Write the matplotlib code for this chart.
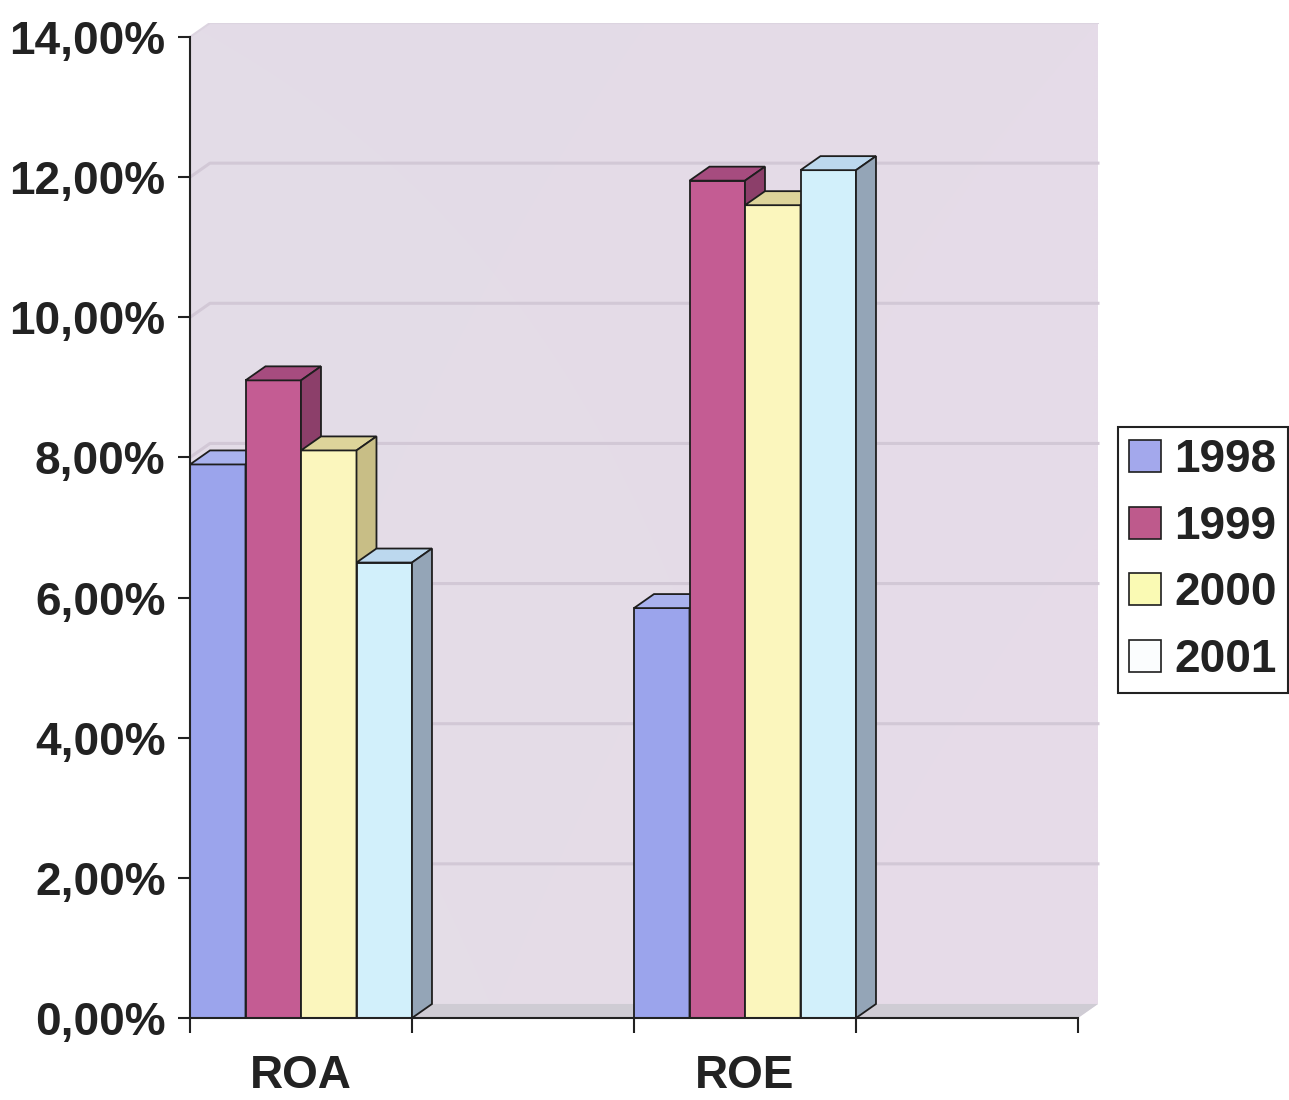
import matplotlib.pyplot as plt
import numpy as np
from matplotlib.patches import Polygon, Patch

plt.rcParams['font.family'] = ['Liberation Sans', 'DejaVu Sans']
plt.rcParams['font.weight'] = 'bold'

categories = ['ROA', 'ROE']
years = ['1998', '1999', '2000', '2001']
roa = [7.9, 9.1, 8.1, 6.5]
roe = [5.85, 11.95, 11.6, 12.1]
values = [roa, roe]
yticks = [0, 2, 4, 6, 8, 10, 12, 14]
ytick_labels = ['0,00%', '2,00%', '4,00%', '6,00%', '8,00%', '10,00%', '12,00%', '14,00%']

# face colours per series: front, top, right side
front = ['#9ba4ec', '#c45c93', '#fbf6bd', '#d2f0fb']
top = ['#a9b2ee', '#a64c7f', '#ddd49a', '#bcd8ee']
side = ['#7f88cc', '#8c3f6a', '#c8be86', '#94a5b7']
legend_colors = ['#a3a8ec', '#be5a8c', '#fafab4', '#fbfdfe']
edge = '#1e1e1e'
txt = '#222222'

fig = plt.figure(figsize=(12.89, 11), dpi=100)
ax = fig.add_axes([190 / 1289, 82 / 1100, 910.2 / 1289, 14.2 * 70.07 / 1100])
ax.patch.set_visible(False)

nslots = 2 * len(categories)
w = 1.0 / len(years)
dx, dy = 0.09, 0.2   # depth offset of the 3d box
ytop = yticks[-1]

# walls with a soft lavender gradient
wall = Polygon([(0, 0), (0, ytop), (dx, ytop + dy), (nslots + dx, ytop + dy),
                (nslots + dx, dy), (nslots, 0)], closed=True, fc='none', ec='none')
ax.add_patch(wall)
gx, gy = np.meshgrid(np.linspace(0, 1, 120), np.linspace(0, 1, 120))
c_tl = np.array([227, 220, 231])
c_tr = np.array([229, 219, 232])
c_bl = np.array([228, 222, 231])
c_br = np.array([231, 219, 233])
grad = ((1 - gx)[..., None] * (1 - gy)[..., None] * c_tl + gx[..., None] * (1 - gy)[..., None] * c_tr
        + (1 - gx)[..., None] * gy[..., None] * c_bl + gx[..., None] * gy[..., None] * c_br) / 255
im = ax.imshow(grad, extent=(0, nslots + dx, 0, ytop + dy), origin='upper',
               interpolation='bilinear', aspect='auto', zorder=0)
im.set_clip_path(wall)

# floor
ax.add_patch(Polygon([(0, 0), (nslots, 0), (nslots + dx, dy), (dx, dy)],
                     closed=True, fc='#cfccd4', ec='none', zorder=1))

# gridlines on side and back wall
for v in yticks[1:-1]:
    ax.plot([0, dx, nslots + dx], [v, v + dy, v + dy], color='#d2c8d6', lw=2.2, zorder=1)
ax.plot([0, dx, nslots + dx], [ytop, ytop + dy, ytop + dy], color='#dcd4e0', lw=1.5, zorder=1)

# 3d bars, drawn left to right so later bars hide earlier sides
for j, vals in enumerate(values):
    for i, h in enumerate(vals):
        x0 = 2 * j + i * w
        z = 3 + 10 * j + i
        ax.bar(x0, h, width=w, align='edge', color=front[i], edgecolor=edge, lw=1.3, zorder=z)
        ax.add_patch(Polygon([(x0, h), (x0 + w, h), (x0 + w + dx, h + dy), (x0 + dx, h + dy)],
                             closed=True, fc=top[i], ec=edge, lw=1.3, zorder=z))
        ax.add_patch(Polygon([(x0 + w, 0), (x0 + w + dx, dy), (x0 + w + dx, h + dy), (x0 + w, h)],
                             closed=True, fc=side[i], ec=edge, lw=1.3, zorder=z))

ax.set_xlim(0, nslots + 0.1)
ax.set_ylim(0, ytop + 0.2)

for s in ['top', 'right']:
    ax.spines[s].set_visible(False)
ax.spines['left'].set_bounds(0, ytop)
ax.spines['bottom'].set_bounds(0, nslots)
for s in ['left', 'bottom']:
    ax.spines[s].set_linewidth(1.5)
    ax.spines[s].set_color(txt)
    ax.spines[s].set_zorder(50)

ax.set_yticks(yticks, ytick_labels)
ax.tick_params(axis='y', length=8.6, width=1.5, color=txt, pad=9, labelsize=33, labelcolor=txt)
ax.set_xticks(np.arange(nslots + 1))
ax.set_xticklabels([])
ax.set_xticks(np.arange(len(categories)) * 2 + 0.5, categories, minor=True)
ax.tick_params(axis='x', which='major', length=11, width=1.5, color=txt)
ax.tick_params(axis='x', which='minor', length=0, pad=26, labelsize=33, labelcolor=txt)

handles = [Patch(facecolor=c, edgecolor=edge, lw=1.2) for c in legend_colors]
leg = fig.legend(handles, years, loc='center right', bbox_to_anchor=(1288 / 1289, 1 - 560 / 1100),
                 frameon=True, fancybox=False, edgecolor=txt, framealpha=1,
                 prop=dict(weight='bold', size=33), handlelength=0.7, handleheight=0.7,
                 handletextpad=0.28, labelspacing=0.49, borderpad=0.25, borderaxespad=0)
leg.get_frame().set_linewidth(1.5)
for t in leg.get_texts():
    t.set_color(txt)

fig.savefig('out.png', dpi=100)
